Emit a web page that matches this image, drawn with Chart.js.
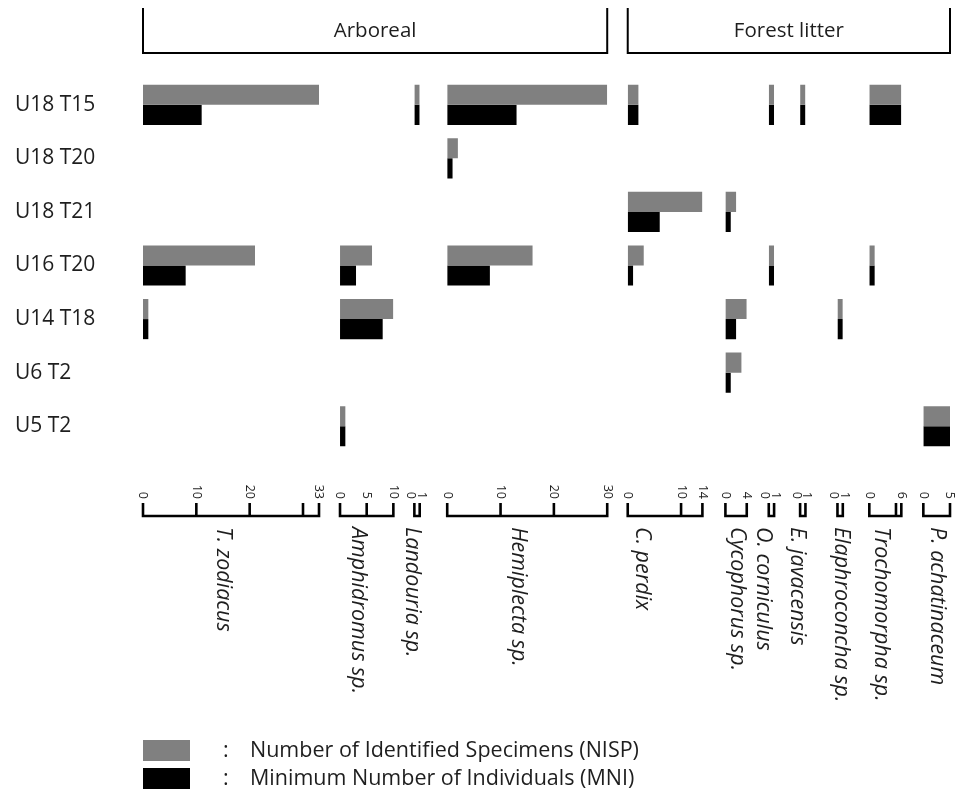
<!DOCTYPE html>
<html>
<head>
<meta charset="utf-8">
<script src="https://cdn.jsdelivr.net/npm/chart.js@4.4.1/dist/chart.umd.min.js"></script>
<style>
  html, body { margin: 0; padding: 0; background: #fff; }
  #wrap { width: 966px; height: 792px; }
</style>
</head>
<body>
<div id="wrap"><canvas id="chart" width="966" height="792"></canvas></div>
<script>
// ---- Data ----
const rows = ['U18 T15', 'U18 T20', 'U18 T21', 'U16 T20', 'U14 T18', 'U6 T2', 'U5 T2'];

const species = [
  'T. zodiacus', 'Amphidromus sp.', 'Landouria sp.', 'Hemiplecta sp.',
  'C. perdix', 'Cycophorus sp.', 'O. corniculus', 'E. javacensis',
  'Elaphroconcha sp.', 'Trochomorpha sp.', 'P. achatinaceum'
];
const groupNames = ['Arboreal', 'Forest litter'];
const groupOf = [0, 0, 0, 0, 1, 1, 1, 1, 1, 1, 1];

const axisMax = [33, 10, 1, 30, 14, 4, 1, 1, 1, 6, 5];
const tickMarks = [
  [0, 10, 20, 30, 33], [0, 5, 10], [0, 1], [0, 10, 20, 30], [0, 10, 14],
  [0, 4], [0, 1], [0, 1], [0, 1], [0, 5, 6], [0, 5]
];
const tickText = [
  [0, 10, 20, 33], [0, 5, 10], [0, 1], [0, 10, 20, 30], [0, 10, 14],
  [0, 4], [0, 1], [0, 1], [0, 1], [0, 6], [0, 5]
];

// one array per species, in the order of `rows`
const nisp = [
  [33, null, null, 21, 1, null, null],
  [null, null, null, 6, 10, null, 1],
  [1, null, null, null, null, null, null],
  [30, 2, null, 16, null, null, null],
  [2, null, 14, 3, null, null, null],
  [null, null, 2, null, 4, 3, null],
  [1, null, null, 1, null, null, null],
  [1, null, null, null, null, null, null],
  [null, null, null, null, 1, null, null],
  [6, null, null, 1, null, null, null],
  [null, null, null, null, null, null, 5]
];
const mni = [
  [11, null, null, 8, 1, null, null],
  [null, null, null, 3, 8, null, 1],
  [1, null, null, null, null, null, null],
  [13, 1, null, 8, null, null, null],
  [2, null, 6, 1, null, null, null],
  [null, null, 1, null, 2, 1, null],
  [1, null, null, 1, null, null, null],
  [1, null, null, null, null, null, null],
  [null, null, null, null, 1, null, null],
  [6, null, null, 1, null, null, null],
  [null, null, null, null, null, null, 5]
];

const legendText = ['Number of Identified Specimens (NISP)', 'Minimum Number of Individuals (MNI)'];

// ---- Layout (px) ----
const PX_PER_UNIT = 5.33;
const gapWidths = [21, 21, 27.5, 20.5, 23, 22, 26, 32, 26.5, 22];
const nameShift = [1, 0, 3.5, 0, -14.5, 9.5, 1, 3, 10, 5, 9.5];
const AXIS_Y = 516, TICK_TOP = 503, TICK_LABEL_Y = 499, NAME_Y = 527;
const GRAY = '#808080', BLACK = '#000000', TEXT = '#1e1e1e';
const FONT = '"Open Sans", "Noto Sans", sans-serif';

// ---- Scales ----
const fixHeight = (s) => { s.height = 339; };
const hidden = {
  grid: { display: false },
  border: { display: false },
  ticks: { display: false }
};

const scales = {
  y: {
    type: 'category',
    position: 'left',
    labels: rows,
    grid: { display: false },
    border: { display: false },
    ticks: { color: TEXT, font: { family: FONT, size: 21 }, crossAlign: 'far', padding: 0 },
    afterFit: (s) => { s.width = 128; }
  }
};
species.forEach((name, i) => {
  scales['sp' + i] = {
    type: 'linear', axis: 'x', position: 'bottom',
    min: 0, max: axisMax[i],
    stack: 'species', stackWeight: axisMax[i] * PX_PER_UNIT,
    ...hidden, afterFit: fixHeight
  };
  if (i < gapWidths.length) {
    scales['gap' + i] = {
      type: 'linear', axis: 'x', position: 'bottom',
      stack: 'species', stackWeight: gapWidths[i],
      ...hidden, afterFit: fixHeight
    };
  }
});

// ---- Datasets ----
const datasets = [];
species.forEach((name, i) => {
  datasets.push({
    label: name + ' NISP', data: nisp[i], xAxisID: 'sp' + i, yAxisID: 'y',
    stack: 'nisp', backgroundColor: GRAY
  });
});
species.forEach((name, i) => {
  datasets.push({
    label: name + ' MNI', data: mni[i], xAxisID: 'sp' + i, yAxisID: 'y',
    stack: 'mni', backgroundColor: BLACK
  });
});

// ---- Brackets, rotated labels, legend ----
const decorations = {
  id: 'decorations',
  afterDraw(chart) {
    const ctx = chart.ctx;
    ctx.save();
    ctx.strokeStyle = BLACK;
    ctx.lineJoin = 'miter';

    species.forEach((name, i) => {
      const sc = chart.scales['sp' + i];
      const x0 = sc.getPixelForValue(0);
      const x1 = sc.getPixelForValue(axisMax[i]);
      const narrow = x1 - x0 < 10;

      ctx.lineWidth = 2.6;
      ctx.beginPath();
      ctx.moveTo(x0, TICK_TOP);
      ctx.lineTo(x0, AXIS_Y);
      ctx.lineTo(x1, AXIS_Y);
      ctx.lineTo(x1, TICK_TOP);
      tickMarks[i].forEach(v => {
        if (v > 0 && v < axisMax[i]) {
          const x = sc.getPixelForValue(v);
          ctx.moveTo(x, TICK_TOP);
          ctx.lineTo(x, AXIS_Y);
        }
      });
      ctx.stroke();

      ctx.fillStyle = TEXT;
      ctx.font = '12.5px ' + FONT;
      ctx.textAlign = 'right';
      ctx.textBaseline = 'middle';
      tickText[i].forEach(v => {
        let x = sc.getPixelForValue(v);
        // spread the two labels of a 0-1 axis so they do not overlap
        if (narrow) x += (v === 0 ? -4 : 1.5);
        ctx.save();
        ctx.translate(x, TICK_LABEL_Y);
        ctx.rotate(Math.PI / 2);
        ctx.fillText(String(v), 0, 0);
        ctx.restore();
      });

      ctx.font = 'italic 21.5px ' + FONT;
      ctx.textAlign = 'left';
      ctx.textBaseline = 'alphabetic';
      ctx.save();
      ctx.translate((x0 + x1) / 2 + nameShift[i] - 15, NAME_Y);
      ctx.rotate(Math.PI / 2);
      ctx.fillText(name, 0, 0);
      ctx.restore();
    });

    // habitat brackets on top
    groupNames.forEach((g, gi) => {
      const idx = groupOf.map((v, i) => v === gi ? i : -1).filter(i => i >= 0);
      const first = chart.scales['sp' + idx[0]];
      const last = chart.scales['sp' + idx[idx.length - 1]];
      const x0 = first.getPixelForValue(0);
      const x1 = last.getPixelForValue(axisMax[idx[idx.length - 1]]);
      ctx.lineWidth = 2;
      ctx.beginPath();
      ctx.moveTo(x0, 8);
      ctx.lineTo(x0, 53);
      ctx.lineTo(x1, 53);
      ctx.lineTo(x1, 8);
      ctx.stroke();
      ctx.fillStyle = TEXT;
      ctx.font = '20.5px ' + FONT;
      ctx.textAlign = 'center';
      ctx.textBaseline = 'middle';
      ctx.fillText(g, (x0 + x1) / 2, 31);
    });

    // legend
    const colors = [GRAY, BLACK];
    legendText.forEach((t, k) => {
      const y = 740 + k * 28;
      ctx.fillStyle = colors[k];
      ctx.fillRect(143, y, 47, 21);
      ctx.fillStyle = TEXT;
      ctx.font = '21.5px ' + FONT;
      ctx.textAlign = 'left';
      ctx.textBaseline = 'middle';
      ctx.fillText(':', 223, y + 11);
      ctx.fillText(t, 250, y + 11);
    });

    ctx.restore();
  }
};

new Chart(document.getElementById('chart'), {
  type: 'bar',
  data: { labels: rows, datasets },
  options: {
    indexAxis: 'y',
    responsive: false,
    animation: false,
    devicePixelRatio: 1,
    layout: { padding: { top: 78, left: 15, right: 16, bottom: 0 } },
    datasets: { bar: { barPercentage: 1, categoryPercentage: 0.75, borderWidth: 0 } },
    scales,
    plugins: { legend: { display: false }, tooltip: { enabled: false } }
  },
  plugins: [decorations]
});
</script>
</body>
</html>
